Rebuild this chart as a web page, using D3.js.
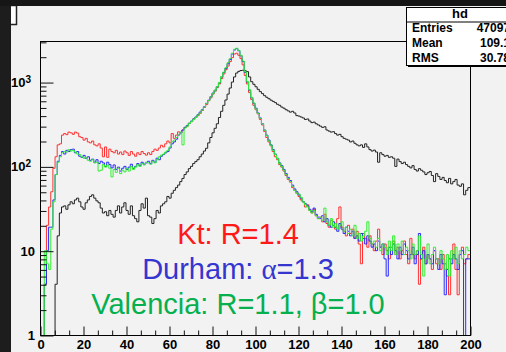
<!DOCTYPE html>
<html>
<head>
<meta charset="utf-8">
<script src="https://cdnjs.cloudflare.com/ajax/libs/d3/7.8.5/d3.min.js"></script>
<style>
  html, body { margin: 0; padding: 0; background: #1c1c1c; }
  #hist_viz { width: 506px; height: 352px; overflow: hidden; }
</style>
</head>
<body>
<div id="hist_viz"></div>
<script>
// jet mass histograms (ROOT style), 200 bins of width 1 from 0 to 200
const xMin = 0, xMax = 200, nBins = 200;

// all jets (black)
const blackCounts = [
  0, 0, 0, 0, 0, 0, 0, 4, 15, 28,
  33, 34, 31, 35, 38, 36, 40, 42, 38, 33,
  31, 37, 40, 44, 46, 42, 39, 37, 32, 28,
  29, 26, 30, 27, 25, 30, 34, 28, 33, 37,
  30, 27, 34, 26, 24, 22, 30, 36, 32, 42,
  26, 25, 21, 24, 30, 28, 34, 36, 38, 44,
  42, 48, 52, 56, 60, 66, 72, 80, 86, 94,
  100, 108, 114, 120, 130, 140, 152, 164, 190, 220,
  250, 283, 320, 380, 450, 530, 613, 720, 850, 1000,
  1150, 1280, 1340, 1370, 1380, 1360, 1330, 1150, 1010, 940,
  880, 820, 770, 730, 690, 660, 635, 610, 590, 570,
  545, 530, 505, 490, 470, 455, 440, 450, 430, 400,
  395, 385, 375, 360, 365, 345, 330, 335, 320, 310,
  300, 290, 295, 270, 262, 255, 258, 245, 235, 240,
  225, 215, 210, 205, 195, 200, 188, 180, 175, 180,
  168, 185, 170, 158, 152, 156, 148, 112, 145, 138,
  132, 135, 128, 130, 125, 100, 122, 114, 108, 112,
  105, 100, 96, 102, 92, 88, 94, 90, 86, 80,
  84, 87, 78, 66, 82, 76, 70, 74, 68, 64,
  72, 62, 66, 70, 60, 58, 62, 46, 52, 56
];

// Kt, R=1.4 (red)
const ktCounts = [
  0, 0, 4, 20, 33, 50, 95, 130, 180, 185,
  235, 245, 238, 255, 250, 240, 255, 248, 225, 220,
  205, 215, 195, 190, 200, 180, 175, 185, 165, 130,
  170, 128, 160, 150, 145, 155, 140, 148, 138, 152,
  145, 135, 150, 140, 132, 145, 138, 150, 142, 136,
  145, 138, 150, 160, 155, 165, 178, 170, 185, 200,
  190, 245, 215, 235, 257, 250, 270, 290, 300, 324,
  340, 365, 380, 400, 425, 460, 500, 540, 600, 650,
  720, 780, 860, 950, 1100, 1250, 1400, 1550, 1750, 1950,
  2150, 2200, 2080, 1900, 1600, 1200, 950, 750, 620, 530,
  470, 420, 360, 310, 260, 220, 195, 175, 150, 130,
  120, 105, 98, 88, 78, 70, 65, 56, 52, 48,
  44, 40, 38, 33, 35, 30, 28, 31, 26, 24,
  25, 22, 27, 21, 19, 23, 20, 18, 24, 33,
  19, 17, 15, 20, 16, 18, 14, 17, 12, 7,
  16, 14, 11, 15, 12, 10, 13, 18, 11, 9,
  12, 10, 8, 11, 13, 9, 11, 8, 10, 13,
  9, 7, 14, 9, 8, 10, 4, 8, 11, 7,
  9, 8, 6, 10, 7, 8, 6, 9, 7, 5,
  3, 8, 12, 6, 3, 9, 11, 7, 8, 9
];

// Durham, alpha=1.3 (blue)
const durhamCounts = [
  0, 0, 4, 10, 19, 19, 40, 80, 115, 135,
  150, 140, 155, 150, 158, 160, 145, 150, 132, 128,
  135, 125, 130, 118, 122, 112, 120, 108, 115, 110,
  100, 112, 105, 96, 104, 92, 98, 88, 95, 100,
  92, 98, 106, 95, 100, 108, 102, 112, 106, 110,
  115, 108, 118, 112, 125, 120, 132, 138, 145, 150,
  165, 185, 195, 210, 235, 250, 270, 290, 305, 325,
  345, 365, 385, 410, 440, 470, 510, 560, 610, 670,
  740, 800, 880, 980, 1150, 1300, 1450, 1650, 1850, 2150,
  2400, 2500, 2350, 2050, 1750, 1300, 1000, 800, 650, 560,
  490, 430, 375, 320, 270, 235, 205, 180, 158, 140,
  125, 110, 102, 92, 82, 74, 68, 60, 54, 50,
  46, 42, 38, 36, 34, 31, 29, 32, 27, 25,
  24, 26, 22, 24, 20, 19, 22, 19, 17, 21,
  18, 16, 19, 17, 15, 17, 14, 15, 13, 16,
  14, 12, 15, 13, 11, 12, 10, 13, 11, 12,
  8, 5, 11, 9, 12, 10, 8, 11, 9, 12,
  10, 8, 9, 11, 7, 9, 16, 8, 10, 7,
  9, 8, 7, 10, 8, 6, 9, 7, 3, 6,
  8, 7, 9, 8, 6, 9, 10, 0, 8, 8
];

// Valencia, R=1.1 beta=1.0 (green)
const valenciaCounts = [
  0, 0, 10, 7, 6, 18, 38, 80, 112, 130,
  145, 150, 148, 158, 152, 155, 148, 140, 138, 130,
  125, 128, 118, 115, 120, 110, 112, 88, 90, 105,
  98, 104, 95, 75, 92, 85, 95, 82, 90, 86,
  95, 88, 100, 92, 98, 105, 100, 108, 104, 112,
  110, 106, 115, 110, 120, 130, 136, 140, 148, 155,
  170, 196, 205, 220, 236, 255, 180, 285, 300, 324,
  340, 360, 380, 405, 430, 465, 505, 555, 605, 665,
  735, 800, 880, 990, 1160, 1310, 1480, 1700, 1900, 2200,
  2450, 2520, 2380, 2080, 1780, 1320, 1020, 810, 660, 565,
  480, 425, 372, 318, 268, 232, 200, 178, 155, 138,
  124, 108, 100, 90, 80, 72, 66, 58, 52, 48,
  47, 43, 38, 35, 33, 30, 28, 30, 26, 24,
  25, 23, 32, 22, 20, 24, 19, 21, 18, 20,
  22, 17, 19, 16, 18, 15, 20, 14, 16, 13,
  15, 17, 22, 14, 12, 13, 11, 14, 10, 12,
  11, 9, 13, 10, 15, 9, 12, 10, 13, 9,
  11, 10, 8, 12, 9, 10, 15, 9, 5, 8,
  12, 7, 9, 11, 8, 7, 10, 8, 6, 9,
  5, 10, 8, 11, 7, 10, 8, 9, 11, 10
];

// axis ticks
const xMajorTicks = [0, 20, 40, 60, 80, 100, 120, 140, 160, 180, 200];
const yMajorTicks = [1, 10, 100, 1000];
const yMinorTicks = [2, 3, 4, 5, 6, 7, 8, 9, 20, 30, 40, 50, 60, 70, 80, 90,
                     200, 300, 400, 500, 600, 700, 800, 900, 2000, 3000];

// stats box
const statsTitle = "hd";
const statsNames = ["Entries", "Mean", "RMS"];
const statsValues = ["47097", "109.1", "30.78"];

// text labels drawn on the pad
const labelLines = [
  { parts: [{ t: "Kt: R=1.4" }], color: "#ff1a1a" },
  { parts: [{ t: "Durham: " }, { t: "\u03b1", serif: true }, { t: "=1.3" }], color: "#3535cf" },
  { parts: [{ t: "Valencia: R=1.1, " }, { t: "\u03b2" }, { t: "=1.0" }], color: "#06b04e" }
];

const series = [
  { counts: blackCounts, color: "#222" },
  { counts: ktCounts, color: "#ff3030" },
  { counts: durhamCounts, color: "#2a2aff" },
  { counts: valenciaCounts, color: "#30f030" }
];

// pad / frame geometry
const W = 506, H = 352;
const frame = { left: 40, right: 470, top: 41, bottom: 335 };

const svg = d3.select("#hist_viz")
  .append("svg")
    .attr("width", W)
    .attr("height", H)
    .style("display", "block");

// pad background
svg.append("rect")
  .attr("width", W).attr("height", H)
  .attr("fill", "#f2f2f2");

const x = d3.scaleLinear()
  .domain([xMin, xMax])
  .range([frame.left, frame.right]);

const y = d3.scaleLog()
  .domain([1, 3070])
  .range([frame.bottom, frame.top]);

const binWidth = (xMax - xMin) / nBins;

// empty bins go to the bottom of the log axis
function yPos(v) {
  return v > 0 ? y(v) : frame.bottom + 2;
}

svg.append("clipPath")
  .attr("id", "frameClip")
  .append("rect")
    .attr("x", frame.left)
    .attr("y", frame.top)
    .attr("width", frame.right - frame.left)
    .attr("height", frame.bottom - frame.top);

const line = d3.line()
  .x(d => x(d.x))
  .y(d => yPos(d.v))
  .curve(d3.curveStepAfter);

const histG = svg.append("g").attr("clip-path", "url(#frameClip)");

series.forEach(s => {
  const pts = s.counts.map((v, i) => ({ x: xMin + i * binWidth, v: v }));
  pts.push({ x: xMax, v: s.counts[s.counts.length - 1] });
  histG.append("path")
    .datum(pts)
    .attr("fill", "none")
    .attr("stroke", s.color)
    .attr("stroke-width", 1)
    .attr("d", line);
});

// frame
svg.append("rect")
  .attr("x", frame.left + 0.5)
  .attr("y", frame.top + 0.5)
  .attr("width", frame.right - frame.left)
  .attr("height", frame.bottom - frame.top)
  .attr("fill", "none")
  .attr("stroke", "#000")
  .attr("stroke-width", 1);

// x axis: ticks point inward
const xAxis = d3.axisBottom(x)
  .tickValues(xMajorTicks)
  .tickSizeInner(-9)
  .tickSizeOuter(0)
  .tickPadding(13)
  .tickFormat(d3.format("d"));

const xAxisG = svg.append("g")
  .attr("transform", `translate(0.5,${frame.bottom + 0.5})`)
  .call(xAxis);

const xMinor = d3.range(xMin, xMax + 0.001, 20 / 3).filter(v => xMajorTicks.indexOf(v) < 0);
svg.append("g")
  .attr("transform", `translate(0.5,${frame.bottom + 0.5})`)
  .call(d3.axisBottom(x).tickValues(xMinor).tickSizeInner(-5).tickSizeOuter(0).tickFormat(""));

// y axis: ticks point inward
svg.append("g")
  .attr("transform", `translate(${frame.left + 0.5},0.5)`)
  .call(d3.axisLeft(y).tickValues(yMajorTicks).tickSizeInner(-13).tickSizeOuter(0).tickFormat(""));

svg.append("g")
  .attr("transform", `translate(${frame.left + 0.5},0.5)`)
  .call(d3.axisLeft(y).tickValues(yMinorTicks.filter(v => y(v) >= frame.top)).tickSizeInner(-6).tickSizeOuter(0).tickFormat(""));

svg.selectAll(".domain").remove();
svg.selectAll(".tick line").attr("stroke", "#111");

xAxisG.selectAll(".tick text")
  .attr("dy", "0")
  .attr("font-family", "Liberation Sans, Arial, sans-serif")
  .attr("font-weight", "bold")
  .attr("font-size", 13)
  .attr("fill", "#000");

// y labels: 1, 10, 10^2, 10^3
const yLab = svg.append("g")
  .attr("font-family", "Liberation Sans, Arial, sans-serif")
  .attr("font-weight", "bold")
  .attr("fill", "#000");

yMajorTicks.forEach(v => {
  const e = Math.round(Math.log10(v));
  const t = yLab.append("text")
    .attr("y", y(v) + 5)
    .attr("font-size", 13);
  if (e <= 1) {
    t.attr("x", 35).attr("text-anchor", "end").text(v);
  } else {
    t.attr("x", 31).attr("text-anchor", "end");
    t.append("tspan").text("10");
    t.append("tspan").attr("dy", -4).attr("font-size", 10).text(e);
  }
});

// on-pad labels
const labelG = svg.append("g")
  .attr("font-family", "Liberation Sans, Arial, sans-serif")
  .attr("font-size", 29);

const labelBaselines = [244, 278.5, 313.5];
labelLines.forEach((l, i) => {
  const t = labelG.append("text")
    .attr("x", 238)
    .attr("y", labelBaselines[i])
    .attr("text-anchor", "middle")
    .attr("fill", l.color);
  l.parts.forEach(p => {
    const ts = t.append("tspan").text(p.t);
    if (p.serif) ts.attr("font-family", "Liberation Serif, Times New Roman, serif");
  });
});

// stats box (cut off at the right edge)
const sb = { x: 406, y: 7, w: 110, h: 58 };
svg.append("rect")
  .attr("x", sb.x + 2).attr("y", sb.y + 2)
  .attr("width", sb.w).attr("height", sb.h)
  .attr("fill", "#000");
svg.append("rect")
  .attr("x", sb.x + 0.5).attr("y", sb.y + 0.5)
  .attr("width", sb.w).attr("height", sb.h)
  .attr("fill", "#fff")
  .attr("stroke", "#000");
svg.append("line")
  .attr("x1", sb.x).attr("x2", sb.x + sb.w)
  .attr("y1", 22).attr("y2", 22)
  .attr("stroke", "#000");

const sg = svg.append("g")
  .attr("font-family", "Liberation Sans, Arial, sans-serif")
  .attr("font-weight", "bold")
  .attr("font-size", 12)
  .attr("fill", "#000");

sg.append("text")
  .attr("x", 460).attr("y", 18)
  .attr("text-anchor", "middle")
  .attr("font-size", 13)
  .text(statsTitle);

statsNames.forEach((n, i) => {
  sg.append("text").attr("x", 412).attr("y", 32 + i * 15).text(n);
  sg.append("text").attr("x", 510).attr("y", 32 + i * 15)
    .attr("text-anchor", "end").text(statsValues[i]);
});

// title box remnant at the top left
svg.append("rect")
  .attr("x", 6.5).attr("y", 5.5)
  .attr("width", 10).attr("height", 19)
  .attr("fill", "#fff")
  .attr("stroke", "#222")
  .attr("stroke-width", 1.5);

// dark window border (left and top)
svg.append("rect")
  .attr("x", 0).attr("y", 0)
  .attr("width", 11).attr("height", H)
  .attr("fill", "#1d1d1d");
svg.append("rect")
  .attr("x", 0).attr("y", 0)
  .attr("width", W).attr("height", 6)
  .attr("fill", "#161616");
</script>
</body>
</html>
